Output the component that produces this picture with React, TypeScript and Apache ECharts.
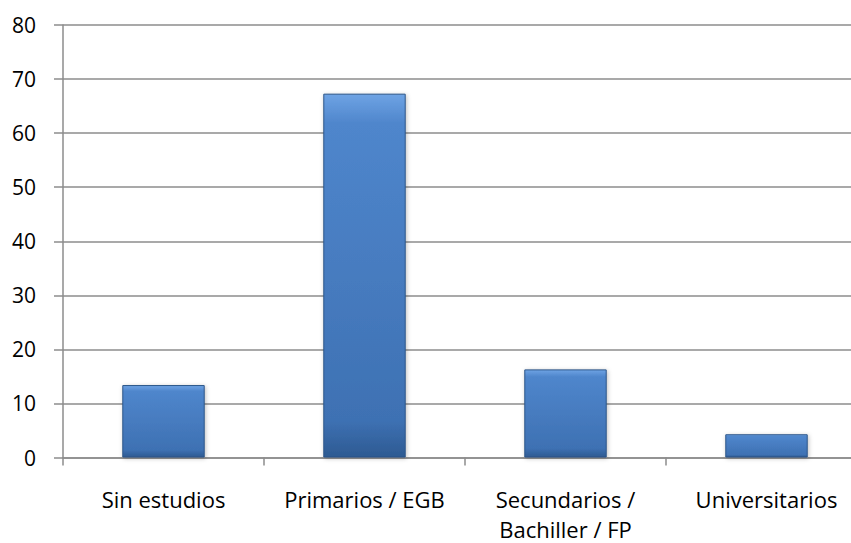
import React, { useEffect, useRef } from "react";
import * as echarts from "echarts";

const categories = ["Sin estudios", "Primarios / EGB", "Secundarios /\nBachiller / FP", "Universitarios"];
const values = [13.4, 67.3, 16.3, 4.3];
const yTicks = { min: 0, max: 80, interval: 10 };

export default function App() {
  const ref = useRef<HTMLDivElement>(null);
  useEffect(() => {
    if (!ref.current) return;
    const chart = echarts.init(ref.current, null, { renderer: "svg" });
    const font = "'Open Sans', 'Noto Sans', sans-serif";
    chart.setOption({
      animation: false,
      backgroundColor: "#ffffff",
      grid: { left: 63, right: 900 - 867, top: 25, bottom: 543 - 457.5, outerBoundsMode: "none", containLabel: false },
      xAxis: {
        type: "category",
        data: categories,
        axisLine: { show: true, lineStyle: { color: "#8c8c8c", width: 1.5 } },
        axisTick: { show: true, interval: 0, length: 8, lineStyle: { color: "#8c8c8c", width: 1.5 } },
        axisLabel: { color: "#000", fontSize: 22, fontFamily: font, margin: 26, lineHeight: 30, interval: 0, hideOverlap: false },
      },
      yAxis: {
        type: "value",
        min: yTicks.min,
        max: yTicks.max,
        interval: yTicks.interval,
        axisLine: { show: true, lineStyle: { color: "#8c8c8c", width: 1.5 } },
        axisTick: { show: true, length: 9, lineStyle: { color: "#8c8c8c", width: 1.5 } },
        axisLabel: { color: "#000", fontSize: 21, fontFamily: font, margin: 27 },
        splitLine: { show: true, lineStyle: { color: "#8c8c8c", width: 1.5 } },
      },
      series: [
        {
          type: "bar",
          data: values,
          barWidth: "41%",
          itemStyle: {
            color: new echarts.graphic.LinearGradient(0, 0, 0, 1, [
              { offset: 0, color: "#6ea3e4" },
              { offset: 0.08, color: "#4f86cc" },
              { offset: 0.9, color: "#3e71b3" },
              { offset: 1, color: "#2d5a92" },
            ]),
            borderColor: "#2c5589",
            borderWidth: 1,
            shadowColor: "rgba(0,0,0,0.25)",
            shadowBlur: 4,
            shadowOffsetX: 1,
            shadowOffsetY: 1,
          },
        },
      ],
    });
    return () => chart.dispose();
  }, []);
  return (
    <div style={{ position: "absolute", left: 0, top: 0, width: 851, height: 543, overflow: "hidden", background: "#fff" }}>
      <div ref={ref} style={{ width: 900, height: 543 }} />
    </div>
  );
}
